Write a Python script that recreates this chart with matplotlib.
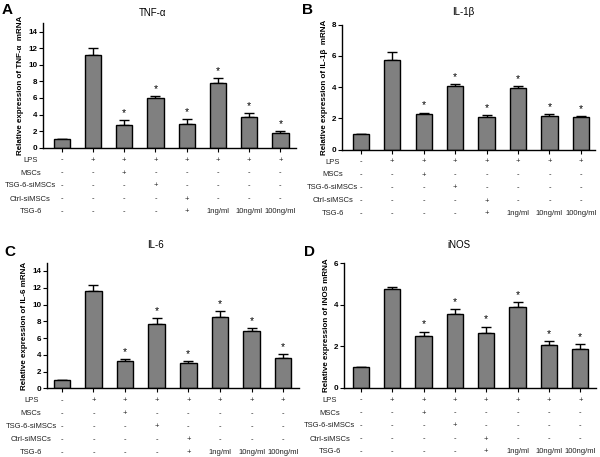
import numpy as np
import matplotlib
matplotlib.use('Agg')
import matplotlib.pyplot as plt

plt.rcParams['font.family'] = ['Liberation Sans', 'DejaVu Sans']

# data
tnf_mean = [1.0, 11.15, 2.75, 6.0, 2.9, 7.75, 3.65, 1.8]
tnf_err = [0.0, 0.85, 0.6, 0.2, 0.55, 0.6, 0.55, 0.2]
il1b_mean = [1.0, 5.75, 2.27, 4.04, 2.07, 3.92, 2.13, 2.06]
il1b_err = [0.0, 0.47, 0.1, 0.15, 0.11, 0.13, 0.15, 0.06]
il6_mean = [1.0, 11.65, 3.25, 7.7, 3.0, 8.55, 6.85, 3.57]
il6_err = [0.0, 0.68, 0.25, 0.63, 0.25, 0.64, 0.32, 0.48]
inos_mean = [1.0, 4.73, 2.47, 3.56, 2.65, 3.88, 2.07, 1.84]
inos_err = [0.0, 0.13, 0.23, 0.21, 0.29, 0.23, 0.18, 0.24]
signif = [False, False, True, True, True, True, True, True]

row_names = ['LPS', 'MSCs', 'TSG-6-siMSCs', 'Ctrl-siMSCs', 'TSG-6']
row_vals = [
    ['-', '+', '+', '+', '+', '+', '+', '+'],
    ['-', '-', '+', '-', '-', '-', '-', '-'],
    ['-', '-', '-', '+', '-', '-', '-', '-'],
    ['-', '-', '-', '-', '+', '-', '-', '-'],
    ['-', '-', '-', '-', '+', '1ng/ml', '10ng/ml', '100ng/ml'],
]

W, H = 600, 457
fig = plt.figure(figsize=(W / 100, H / 100), dpi=100)


def px_axes(left, top, right, bottom):
    return fig.add_axes([left / W, 1 - bottom / H, (right - left) / W, (bottom - top) / H])


def panel(ax, mean, err, ymax, ystep, title, ylab, letter, label_x, title_xy, letter_xy, xlim):
    x = np.arange(len(mean))
    ax.bar(x, mean, width=0.52, color='#808080', edgecolor='black', linewidth=1.0, zorder=2)
    ax.errorbar(x, mean, yerr=[np.zeros(len(err)), err], fmt='none', ecolor='black',
                elinewidth=1.0, capsize=3.8, capthick=1.0, zorder=1)
    for i, s in enumerate(signif):
        if s:
            ax.annotate('*', (x[i], mean[i] + err[i]), xytext=(0, 1.5), textcoords='offset points',
                        ha='center', va='bottom', fontsize=7.5)
    ax.set_xlim(*xlim)
    ax.set_ylim(0, ymax)
    ax.set_yticks(np.arange(0, ymax + 0.01 - (ymax % ystep if ymax % ystep else 0), ystep))
    ax.set_xticks(x)
    ax.set_xticklabels([])
    ax.spines['top'].set_visible(False)
    ax.spines['right'].set_visible(False)
    ax.spines['left'].set_linewidth(1.0)
    ax.spines['bottom'].set_linewidth(1.0)
    ax.tick_params(axis='both', direction='out', length=3, width=0.8, pad=1)
    for t in ax.get_yticklabels():
        t.set_fontsize(5.8)
        t.set_fontweight('bold')
    ax.set_ylabel(ylab, fontsize=5.8, fontweight='bold', labelpad=3)
    fig.text(title_xy[0] / W, 1 - title_xy[1] / H, title, ha='center', va='center', fontsize=7)
    fig.text(letter_xy[0] / W, 1 - letter_xy[1] / H, letter, ha='left', va='center',
             fontsize=11, fontweight='bold')
    # treatment table under the axis
    offsets = [12.5, 25.5, 38, 51.5, 64]
    for r, name in enumerate(row_names):
        dy = -offsets[r] * 0.72
        ax.annotate(name, (label_x, 0), xycoords=('data', 'axes fraction'), xytext=(0, dy),
                    textcoords='offset points', ha='center', va='center', fontsize=5.5,
                    color='#222222', annotation_clip=False)
        for i, v in enumerate(row_vals[r]):
            ax.annotate(v, (x[i], 0), xycoords=('data', 'axes fraction'), xytext=(0, dy),
                        textcoords='offset points', ha='center', va='center', fontsize=5.5,
                        color='#222222', annotation_clip=False)


axA = px_axes(43, 23.3, 296, 147.7)
panel(axA, tnf_mean, tnf_err, 15, 2, 'TNF-α', 'Relative expression of TNF-α  mRNA', 'A',
      -1.0, (153, 12.5), (2, 10), (-0.6, 7.5))

axB = px_axes(342, 24.7, 595, 149.5)
panel(axB, il1b_mean, il1b_err, 8, 2, 'IL-1β', 'Relative expression of IL-1β  mRNA', 'B',
      -0.9, (463, 12), (302, 10), (-0.6, 7.45))

axC = px_axes(47, 262.6, 299, 388.3)
panel(axC, il6_mean, il6_err, 15, 2, 'IL-6', 'Relative expression of IL-6 mRNA', 'C',
      -0.97, (156, 245), (4, 252), (-0.47, 7.5))

axD = px_axes(344, 263, 596, 387.7)
panel(axD, inos_mean, inos_err, 6, 2, 'iNOS', 'Relative expression of iNOS mRNA', 'D',
      -1.0, (459, 245), (304, 252), (-0.54, 7.5))

fig.savefig('out.png', dpi=100)
